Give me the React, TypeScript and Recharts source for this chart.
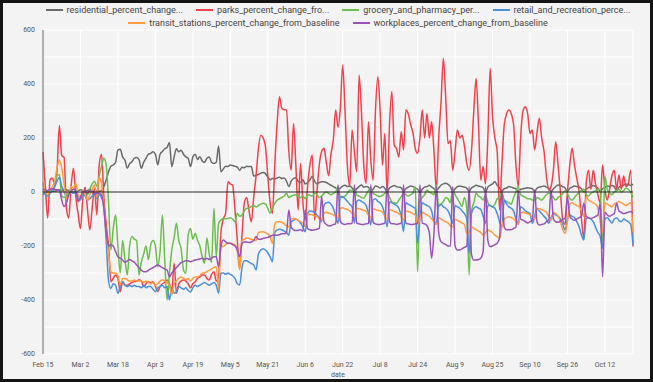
import React from 'react';
import { LineChart, Line, XAxis, YAxis, CartesianGrid, ReferenceLine, Label } from 'recharts';

// one row per week, rows start on Saturday (Feb 15 2020)
const residential = [
  0, -3, 2, 5, 5, 3, 5,
  8, 5, 10, 8, 5, 3, 0,
  2, 5, 8, 5, 3, 5, 10,
  5, 0, 5, 3, 5, 20, 45,
  75, 95, 100, 110, 155, 158, 130,
  118, 88, 105, 112, 125, 128, 120,
  88, 110, 125, 140, 143, 149, 140,
  100, 140, 150, 160, 165, 183, 94,
  130, 160, 149, 155, 140, 130, 125,
  94, 130, 140, 120, 131, 115, 110,
  125, 130, 110, 106, 110, 170, 75,
  85, 95, 94, 100, 98, 95, 92,
  80, 92, 90, 95, 94, 94, 59,
  62, 65, 70, 72, 68, 55, 45,
  50, 48, 52, 55, 50, 52, 40,
  20, 40, 50, 53, 40, 35, 45,
  30, 35, 45, 57, 40, 30, 35,
  38, 38, 35, 30, 25, 20, 15,
  5, 15, 22, 25, 20, 22, 15,
  0, 12, 20, 26, 18, 20, 18,
  2, 10, 22, 20, 15, 20, 14,
  0, 15, 20, 24, 20, 18, 15,
  3, 12, 18, 22, 20, 15, 10,
  0, 10, 18, 20, 25, 18, 12,
  5, 15, 25, 30, 32, 28, 20,
  0, 12, 20, 22, 20, 18, 14,
  2, 15, 20, 25, 22, 20, 16,
  0, 18, 25, 30, 38, 25, 15,
  5, 12, 15, 20, 18, 15, 12,
  0, 10, 12, 14, 16, 14, 12,
  3, 14, 18, 20, 22, 18, 14,
  0, 12, 20, 26, 24, 20, 15,
  2, 14, 18, 22, 20, 18, 12,
  0, 10, 16, 20, 24, 20, 14,
  2, 12, 18, 22, 20, 24, 20,
  5, 18, 22, 26, 30, 28, 24,
  30,
];

const parks = [
  148, 20, -96, 45, 52, 30, 80,
  246, 135, 128, -60, -96, 20, 88,
  -17, -80, -135, -25, 18, -65, -140,
  -60, 14, -85, 100, 140, -20, -120,
  -200, -332, -320, -307, -320, -369, -332,
  -345, -345, -340, -335, -332, -330, -325,
  -330, -350, -340, -332, -335, -332, -350,
  -369, -350, -340, -335, -326, -340, -369,
  -264, -375, -340, -330, -326, -330, -340,
  -355, -340, -332, -320, -315, -307, -307,
  -320, -326, -305, -295, -330, -314, -150,
  -100, -79, 38, 30, 25, -67, -180,
  -283, -160, -40, -20, -70, -110, -20,
  60, 160, 210, 200, 170, 60, -40,
  -79, 100, 254, 353, 310, 305, 304,
  150, 81, 254, 100, -67, 106, -40,
  -104, 20, 100, 137, -104, 0, 100,
  150, 162, 110, 60, 140, 193, 304,
  240, 310, 470, 300, 100, 20, 230,
  150, 75, 433, 300, 100, 32, 260,
  120, 44, 300, 427, 300, 100, 217,
  -5, 250, 372, 174, 160, 130, 223,
  156, 304, 290, 250, 220, 160, 143,
  200, 304, 200, 291, 200, 260, 150,
  7, 200, 330, 495, 350, 180, 190,
  81, 150, 230, 200, 210, 170, 106,
  81, 150, 300, 420, 250, 44, 94,
  30, 200, 458, 280, 200, 150, -67,
  100, 248, 290, 304, 290, 250, 100,
  20, 200, 300, 316, 290, 217, 230,
  156, 220, 273, 200, 150, 60, 7,
  20, 80, 186, 100, 0, -104, -120,
  0, 100, 162, 100, 50, 0, -100,
  -172, 30, 81, 10, 81, 30, -10,
  -40, 100, 10, -30, 10, 60, 81,
  10, 63, 10, 59, 20, 30, 81,
  -202,
];

const grocery = [
  -10, 0, 5, 0, 10, 20, 60,
  65, -15, -20, -10, 0, 10, 0,
  5, -15, -20, 5, 0, -10, 10,
  30, 40, 20, 60, 95, 125, 100,
  -40, -215, -135, -85, -200, -300, -180,
  -250, -307, -200, -165, -175, -180, -307,
  -260, -230, -200, -250, -196, -180, -200,
  -277, -220, -85, -252, -400, -300, -215,
  -170, -116, -180, -210, -289, -301, -160,
  -135, -175, -153, -180, -200, -240, -264,
  -170, -230, -260, -60, -240, -116, -104,
  -98, -100, -98, -95, -100, -110, -79,
  -90, -85, -70, -60, -60, -54, -50,
  -55, -50, -45, -42, -45, -60, -79,
  -60, -42, -30, -25, -20, -15, -5,
  -20, -15, -12, -10, -15, -20, -15,
  -25, -10, -12, -15, -5, -10, -20,
  -15, -5, 0, -5, -10, -5, 0,
  20, -17, -20, -15, -5, 7, 5,
  14, -11, -15, -20, -23, -10, 5,
  14, -5, -10, -15, -17, -12, -5,
  1, -20, -36, -40, -42, -30, -17,
  -5, -10, -15, -10, -5, 20, -295,
  -30, -20, -10, 7, 0, -5, -10,
  26, -54, -45, -35, -20, -25, -40,
  10, -10, -25, -40, -54, -20, -60,
  -307, -70, -40, -5, -15, -20, -30,
  -10, -40, -50, -55, -45, -25, -20,
  0, -30, -35, -40, -45, -20, 0,
  20, -10, -15, -20, -25, -25, -30,
  -30, -20, -25, -30, -20, -10, -5,
  -10, -20, -30, -20, -15, -5, 5,
  -5, -25, -30, -20, -10, 0, 5,
  10, -10, -15, -5, 0, 5, 10,
  10, -209, 57, 10, -5, -10, 0,
  5, 10, 0, 5, 15, 10, 0,
  -20,
];

const retail = [
  5, -10, -15, -5, 5, 20, 40,
  55, 20, 0, -15, -10, 0, -5,
  0, -25, -30, -10, -15, -30, -25,
  -15, -5, -25, -10, -20, -60, -180,
  -330, -357, -340, -345, -375, -350, -332,
  -345, -350, -345, -350, -345, -350, -350,
  -355, -345, -355, -350, -350, -360, -369,
  -355, -350, -345, -355, -350, -400, -355,
  -375, -370, -350, -355, -360, -355, -365,
  -370, -355, -345, -350, -345, -340, -335,
  -340, -345, -340, -335, -345, -375, -301,
  -300, -305, -300, -305, -310, -320, -340,
  -344, -280, -255, -255, -260, -265, -270,
  -289, -230, -215, -210, -215, -225, -240,
  -258, -150, -141, -138, -140, -145, -150,
  -160, -110, -105, -100, -105, -115, -130,
  -147, -80, -70, -72, -75, -85, -95,
  -110, -50, -40, -38, -45, -60, -90,
  -116, -20, -17, -25, -35, -45, -54,
  -116, -35, -30, -35, -40, -50, -80,
  -122, -30, -25, -35, -40, -55, -85,
  -128, -36, -40, -45, -50, -60, -90,
  -147, -40, -45, -50, -55, -60, -190,
  -100, -40, -45, -50, -55, -70, -110,
  -116, -50, -45, -55, -60, -70, -90,
  -116, -50, -55, -60, -70, -80, -100,
  -227, -80, -60, -55, -60, -65, -90,
  -116, -50, -50, -55, -60, -80, -110,
  -130, -30, -45, -55, -60, -70, -100,
  -116, -55, -60, -70, -75, -80, -116,
  -90, -60, -70, -80, -90, -100, -116,
  -95, -80, -85, -90, -100, -120, -141,
  -100, -85, -90, -95, -110, -130, -160,
  -178, -100, -95, -100, -110, -130, -150,
  -165, -209, -100, -95, -105, -115, -100,
  -95, -105, -110, -100, -105, -110, -120,
  -196,
];

const transit = [
  35, 0, -10, 10, 20, 40, 90,
  118, 88, 30, -25, -10, 20, 15,
  32, -10, -20, 5, -10, -30, -10,
  10, 26, -20, 55, 30, -50, -150,
  -227, -295, -300, -300, -310, -344, -320,
  -320, -325, -330, -330, -326, -330, -330,
  -330, -335, -330, -335, -340, -335, -345,
  -340, -330, -325, -330, -335, -345, -381,
  -340, -330, -320, -315, -320, -325, -320,
  -330, -320, -315, -315, -310, -300, -300,
  -295, -290, -285, -280, -277, -357, -200,
  -202, -195, -190, -190, -192, -195, -220,
  -289, -180, -175, -170, -172, -175, -178,
  -180, -150, -148, -147, -150, -155, -165,
  -190, -116, -110, -110, -112, -118, -125,
  -130, -100, -98, -100, -105, -110, -115,
  -128, -85, -82, -85, -88, -90, -100,
  -104, -79, -75, -78, -80, -85, -90,
  -95, -60, -58, -62, -65, -70, -80,
  -90, -60, -62, -65, -68, -72, -85,
  -95, -62, -65, -68, -70, -75, -88,
  -100, -65, -68, -72, -75, -80, -90,
  -105, -70, -72, -75, -80, -85, -120,
  -100, -75, -80, -85, -90, -100, -110,
  -120, -95, -100, -105, -110, -115, -125,
  -130, -100, -105, -110, -115, -120, -153,
  -150, -130, -135, -140, -145, -150, -160,
  -150, -140, -145, -150, -160, -165, -172,
  -130, -100, -95, -92, -95, -100, -110,
  -120, -80, -75, -78, -80, -85, -95,
  -100, -65, -62, -65, -70, -75, -90,
  -105, -75, -80, -90, -110, -140, -153,
  -110, -45, -40, -45, -50, -55, -70,
  -90, -17, -30, -35, -40, -45, -60,
  -110, -150, -40, -45, -50, -55, -45,
  -40, -35, -40, -45, -50, -45, -40,
  -150,
];

const workplaces = [
  10, 8, 5, 10, 12, 10, 8,
  5, -30, -54, -40, -10, 5, 10,
  5, -36, -20, 0, 5, -5, 5,
  0, -10, -5, -5, -10, -60, -150,
  -200, -195, -200, -220, -240, -245, -252,
  -260, -255, -250, -255, -260, -270, -280,
  -290, -295, -295, -290, -285, -280, -275,
  -270, -275, -280, -285, -289, -314, -300,
  -290, -280, -270, -262, -258, -255, -255,
  -258, -255, -252, -250, -248, -245, -250,
  -245, -250, -245, -240, -240, -277, -202,
  -178, -185, -190, -190, -195, -200, -215,
  -240, -190, -185, -185, -187, -185, -180,
  -165, -175, -175, -172, -170, -168, -165,
  -160, -160, -160, -158, -155, -155, -150,
  -67, -130, -140, -143, -142, -140, -145,
  -67, -135, -140, -142, -140, -138, -135,
  -17, -110, -120, -125, -125, -120, -118,
  26, -110, -118, -120, -118, -118, -115,
  26, -115, -118, -120, -120, -118, -116,
  26, -112, -118, -120, -120, -118, -115,
  26, -110, -118, -118, -120, -118, -115,
  26, -115, -118, -120, -120, -118, -115,
  26, -115, -118, -125, -150, -245, -150,
  20, -150, -184, -190, -195, -200, -200,
  20, -200, -215, -215, -210, -205, -200,
  20, -230, -252, -252, -250, -245, -220,
  20, -180, -202, -200, -195, -190, -170,
  7, -130, -140, -140, -140, -135, -130,
  7, -100, -104, -110, -115, -110, -105,
  7, -110, -122, -120, -118, -110, -105,
  7, -100, -110, -112, -108, -100, -98,
  -17, -90, -100, -105, -100, -95, -90,
  -42, -90, -95, -98, -95, -90, -85,
  -42, -314, -75, -85, -90, -85, -80,
  -42, -70, -75, -80, -78, -75, -72,
  -80,
];

const xTicks = ['Feb 15', 'Mar 2', 'Mar 18', 'Apr 3', 'Apr 19', 'May 5', 'May 21', 'Jun 6',
  'Jun 22', 'Jul 8', 'Jul 24', 'Aug 9', 'Aug 25', 'Sep 10', 'Sep 26', 'Oct 12'];
const yTicks = [-600, -500, -400, -300, -200, -100, 0, 100, 200, 300, 400, 500, 600];

const MONTHS = ['Jan', 'Feb', 'Mar', 'Apr', 'May', 'Jun', 'Jul', 'Aug', 'Sep', 'Oct', 'Nov', 'Dec'];
const dates = residential.map((_, i) => {
  const d = new Date(2020, 1, 15 + i);
  return `${MONTHS[d.getMonth()]} ${d.getDate()}`;
});

const series = [
  { key: 'residential_percent_change_from_baseline', label: 'residential_percent_change...', color: '#6a6a6a', values: residential },
  { key: 'parks_percent_change_from_baseline', label: 'parks_percent_change_fro...', color: '#f2414b', values: parks },
  { key: 'grocery_and_pharmacy_percent_change_from_baseline', label: 'grocery_and_pharmacy_per...', color: '#6cbe4c', values: grocery },
  { key: 'retail_and_recreation_percent_change_from_baseline', label: 'retail_and_recreation_perce...', color: '#4a90d9', values: retail },
  { key: 'transit_stations_percent_change_from_baseline', label: 'transit_stations_percent_change_from_baseline', color: '#ff9b3d', values: transit },
  { key: 'workplaces_percent_change_from_baseline', label: 'workplaces_percent_change_from_baseline', color: '#9b52b8', values: workplaces },
];

const data = dates.map((date, i) => {
  const row: Record<string, string | number> = { date };
  series.forEach((s) => { row[s.key] = s.values[i]; });
  return row;
});

function LegendItem({ color, label }: { color: string; label: string }) {
  return (
    <span style={{ display: 'inline-flex', alignItems: 'center', whiteSpace: 'nowrap' }}>
      <span style={{ display: 'inline-block', width: 17, height: 2, background: color, marginRight: 4 }} />
      <span>{label}</span>
    </span>
  );
}

const rowStyle: React.CSSProperties = {
  display: 'flex',
  justifyContent: 'center',
  gap: 13,
  height: 13,
  alignItems: 'center',
  whiteSpace: 'nowrap',
};

export default function App() {
  return (
    <div
      style={{
        width: 653,
        height: 382,
        boxSizing: 'border-box',
        border: '3px solid #141414',
        background: '#f3f3f3',
        position: 'relative',
        fontFamily: 'Roboto, sans-serif',
      }}
    >
      <style>{'body{margin:0}'}</style>
      <div
        style={{
          position: 'absolute',
          left: 40,
          width: 590,
          top: 0,
          fontSize: 9,
          color: '#444',
          zIndex: 2,
        }}
      >
        <div style={rowStyle}>
          {series.slice(0, 4).map((s) => <LegendItem key={s.key} color={s.color} label={s.label} />)}
        </div>
        <div style={rowStyle}>
          {series.slice(4).map((s) => <LegendItem key={s.key} color={s.color} label={s.label} />)}
        </div>
      </div>
      <LineChart width={647} height={376} data={data} margin={{ top: 27, right: 17, left: 0, bottom: 0 }}>
        <CartesianGrid stroke="#ffffff" strokeWidth={1} />
        <XAxis
          dataKey="date"
          ticks={xTicks}
          interval={0}
          axisLine={false}
          tickLine={false}
          height={25}
          tick={{ fontSize: 7, fill: '#555' }}
        >
          <Label value="date" position="insideBottom" offset={2} fontSize={7} fill="#555" />
        </XAxis>
        <YAxis
          domain={[-600, 600]}
          ticks={yTicks}
          interval={0}
          width={40}
          axisLine={{ stroke: '#666' }}
          tickLine={false}
          tick={{ fontSize: 7, fill: '#555' }}
          tickFormatter={(v: number) => (v % 200 === 0 ? String(v) : '')}
        />
        {series.map((s) => (
          <Line
            key={s.key}
            type="monotone"
            dataKey={s.key}
            stroke={s.color}
            strokeWidth={1.5}
            dot={false}
            isAnimationActive={false}
          />
        ))}
        <ReferenceLine y={0} stroke="#222" strokeWidth={1} />
      </LineChart>
    </div>
  );
}
